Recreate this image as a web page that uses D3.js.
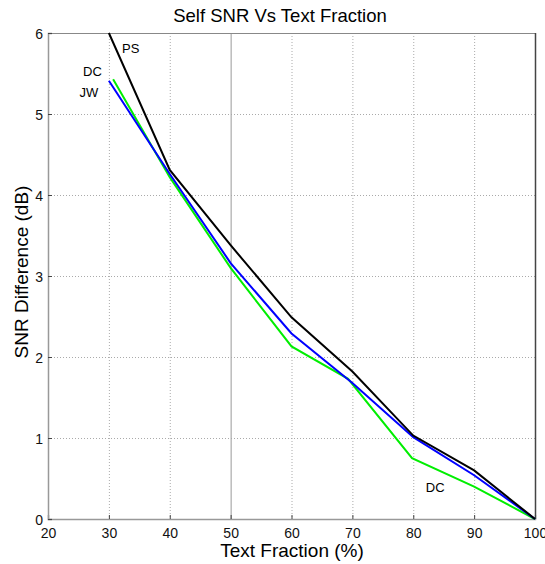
<!DOCTYPE html>
<html><head><meta charset="utf-8">
<script src="https://cdn.jsdelivr.net/npm/d3@7"></script>
<style>body{margin:0;background:#fff}svg{display:block}text{font-family:Arial,"Liberation Sans",sans-serif}</style>
</head><body><svg id="c" width="545" height="564"></svg>
<script>
const xTicks=[20,30,40,50,60,70,80,90,100];
const yTicks=[0,1,2,3,4,5,6];
const psX=[30,40,50,60,70,80,90,100];
const psY=[6.0,4.31,3.38,2.49,1.82,1.03,0.6,0];
const jwX=[30,40,50,60,70,80,90,100];
const jwY=[5.41,4.26,3.16,2.29,1.68,1.01,0.54,0];
const dcX=[30.7,40,50,60,69.3,79.8,90,100];
const dcY=[5.43,4.22,3.1,2.13,1.73,0.75,0.4,0];
const labels=[{t:"PS",x:33.6,y:5.81},{t:"DC",x:27.3,y:5.53},{t:"JW",x:26.7,y:5.27},{t:"DC",x:83.6,y:0.39}];

const svg=d3.select("#c");
const L=48,R=535,T=33,B=519;
const x=d3.scaleLinear().domain([20,100]).range([L,R]);
const y=d3.scaleLinear().domain([0,6]).range([B,T]);

// grid
const g=svg.append("g");
g.selectAll(".vg").data(xTicks.filter(d=>d>20&&d<100)).join("line")
 .attr("x1",d=>x(d)+0.5).attr("x2",d=>x(d)+0.5).attr("y1",T).attr("y2",B)
 .attr("stroke",d=>d===50?"#999":"#aaa").attr("stroke-width",1)
 .attr("stroke-dasharray",d=>d===50?null:"1,2");
g.selectAll(".hg").data(yTicks.filter(d=>d>0&&d<6)).join("line")
 .attr("x1",L).attr("x2",R).attr("y1",d=>y(d)+0.5).attr("y2",d=>y(d)+0.5)
 .attr("stroke","#aaa").attr("stroke-dasharray","1,2");

// frame
svg.append("line").attr("x1",L).attr("x2",R).attr("y1",T+0.5).attr("y2",T+0.5).attr("stroke","#888");
svg.append("line").attr("x1",R+0.5).attr("x2",R+0.5).attr("y1",T).attr("y2",B).attr("stroke","#444").attr("stroke-width",1.5);

// axes
const xa=svg.append("g").attr("transform",`translate(0,${B})`)
 .call(d3.axisBottom(x).tickValues(xTicks).tickFormat(d3.format("d")).tickSize(-4).tickPadding(7));
const ya=svg.append("g").attr("transform",`translate(${L},0)`)
 .call(d3.axisLeft(y).tickValues(yTicks).tickFormat(d3.format("d")).tickSize(-4).tickPadding(5));
[xa,ya].forEach(a=>{a.select(".domain").attr("stroke","#999").attr("stroke-width",1.5);
 a.selectAll(".tick line").attr("stroke","#444");
 a.selectAll("text").attr("font-size",14).attr("fill","#111").style("font-family","Arial,'Liberation Sans',sans-serif");});
xa.selectAll(".tick text").attr("dy","0.85em");
ya.selectAll(".tick text").attr("dy","0.36em");

// lines
const line=d3.line().x(d=>x(d[0])).y(d=>y(d[1]));
const series=[
 {xs:dcX,ys:dcY,c:"#00ee00"},
 {xs:jwX,ys:jwY,c:"#0000ff"},
 {xs:psX,ys:psY,c:"#000000"}];
series.forEach(s=>{
 svg.append("path").datum(s.xs.map((v,i)=>[v,s.ys[i]])).attr("d",line)
  .attr("fill","none").attr("stroke",s.c).attr("stroke-width",2);
});
svg.selectAll(".lab").data(labels).join("text")
 .attr("x",d=>x(d.x)).attr("y",d=>y(d.y)).attr("font-size",13).attr("text-anchor","middle")
 .attr("dy","0.35em").text(d=>d.t);

// titles
svg.append("text").attr("x",280).attr("y",22).attr("text-anchor","middle").attr("font-size",18.5).text("Self SNR Vs Text Fraction");
svg.append("text").attr("x",292).attr("y",557).attr("text-anchor","middle").attr("font-size",19).text("Text Fraction (%)");
svg.append("text").attr("transform","translate(28,272) rotate(-90)").attr("text-anchor","middle").attr("font-size",19).text("SNR Difference (dB)");
</script></body></html>
